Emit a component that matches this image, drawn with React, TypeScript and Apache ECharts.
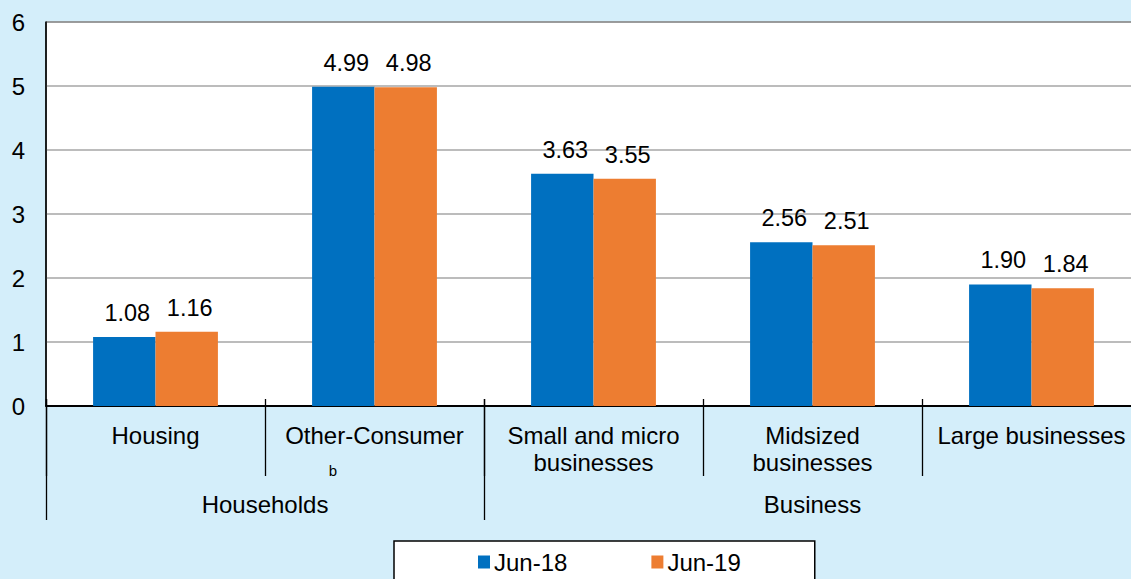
import React, { useEffect, useRef } from "react";
import * as echarts from "echarts";

const categories = [
  "Housing",
  "Other-Consumer\n{b|b}",
  "Small and micro\nbusinesses",
  "Midsized\nbusinesses",
  "Large businesses",
];
const groupLabels = ["Households", "Business"];
const groupCenters = [1, 3.5];
const groupBounds = [0, 2];
const seriesNames = ["Jun-18", "Jun-19"];
const jun18 = [1.08, 4.99, 3.63, 2.56, 1.9];
const jun19 = [1.16, 4.98, 3.55, 2.51, 1.84];
const yTicks = [0, 1, 2, 3, 4, 5, 6];

const FONT = "'Liberation Sans', Arial, sans-serif";
const BLUE = "#0070C0";
const ORANGE = "#ED7D31";

export default function App() {
  const ref = useRef<HTMLDivElement>(null);
  useEffect(() => {
    document.body.style.margin = "0";
    if (!ref.current) return;
    const chart = echarts.init(ref.current, null, { renderer: "svg" });
    const labelCommon = {
      show: true,
      position: "top",
      distance: 12,
      offset: [3, 0],
      fontSize: 23.5,
      color: "#000",
      fontFamily: FONT,
      formatter: (p: any) => p.value.toFixed(2),
    };
    chart.setOption({
      animation: false,
      backgroundColor: "#D4EEFA",
      textStyle: { fontFamily: FONT },
      grid: {
        left: 46,
        top: 22,
        width: 1095,
        height: 384,
        show: true,
        backgroundColor: "#fff",
        borderColor: "#000",
        borderWidth: 1,
        outerBoundsMode: "none",
        containLabel: false,
      },
      legend: {
        data: seriesNames,
        left: 394,
        top: 541,
        orient: "horizontal",
        icon: "rect",
        itemWidth: 12,
        itemHeight: 13,
        itemGap: 84,
        padding: [9, 74, 20, 84],
        backgroundColor: "#fff",
        borderColor: "#000",
        borderWidth: 1.5,
        textStyle: { fontSize: 24, color: "#000", fontFamily: FONT, padding: [0, 0, 0, -1] },
      },
      xAxis: [
        {
          type: "category",
          data: categories,
          position: "bottom",
          axisLine: { show: true, lineStyle: { color: "#000", width: 2 } },
          axisTick: { show: false },
          splitLine: { show: false },
          axisLabel: {
            interval: 0,
            fontSize: 24,
            lineHeight: 27,
            margin: 16,
            color: "#000",
            fontFamily: FONT,
            rich: {
              b: { fontSize: 15, lineHeight: 42, padding: [0, 83, 0, 0], color: "#000", fontFamily: FONT },
            },
          },
        },
        {
          type: "value",
          min: 0,
          max: 5,
          interval: 1,
          position: "bottom",
          offset: -7,
          axisLine: { show: false },
          axisTick: { show: true, inside: false, length: 77, lineStyle: { color: "#000", width: 1.3 } },
          axisLabel: { show: false },
          splitLine: { show: false },
        },
        {
          type: "value",
          min: 0,
          max: 5,
          position: "bottom",
          offset: -7,
          axisLine: { show: false },
          axisTick: { show: true, inside: false, length: 121, customValues: groupBounds, lineStyle: { color: "#000", width: 1.3 } },
          axisLabel: {
            show: true,
            customValues: groupCenters,
            formatter: (v: number) => groupLabels[groupCenters.indexOf(v)] ?? "",
            fontSize: 24,
            margin: 93,
            color: "#000",
            fontFamily: FONT,
          },
          splitLine: { show: false },
        },
      ],
      yAxis: {
        type: "value",
        min: yTicks[0],
        max: yTicks[yTicks.length - 1],
        interval: 1,
        axisLine: { show: true, lineStyle: { color: "#000", width: 1.5 } },
        axisTick: { show: false },
        axisLabel: { fontSize: 24, color: "#000", margin: 21, fontFamily: FONT },
        splitLine: { show: true, lineStyle: { color: "#A6A6A6", width: 1.5 } },
      },
      series: [
        {
          name: seriesNames[0],
          type: "bar",
          data: jun18,
          itemStyle: { color: BLUE },
          barGap: "0%",
          barCategoryGap: "43%",
          label: labelCommon,
        },
        {
          name: seriesNames[1],
          type: "bar",
          data: jun19,
          itemStyle: { color: ORANGE },
          barGap: "0%",
          barCategoryGap: "43%",
          label: labelCommon,
        },
      ],
    });
    return () => chart.dispose();
  }, []);
  return (
    <div
      ref={ref}
      style={{ position: "absolute", left: 0, top: 0, width: 1131, height: 579 }}
    />
  );
}
